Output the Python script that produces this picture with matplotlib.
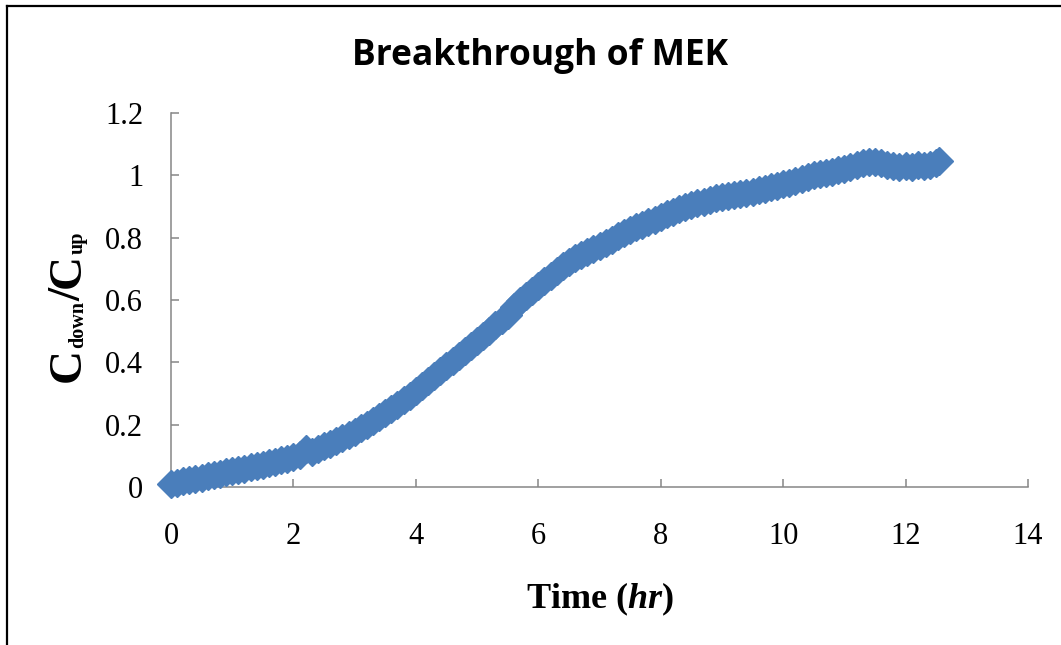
import numpy as np
import matplotlib
matplotlib.use('Agg')
import matplotlib.pyplot as plt
from matplotlib.lines import Line2D
from matplotlib.transforms import IdentityTransform

plt.rcParams['font.family'] = ['Liberation Serif', 'DejaVu Serif']
plt.rcParams['mathtext.fontset'] = 'custom'
plt.rcParams['mathtext.it'] = 'Liberation Serif:bold:italic'
plt.rcParams['mathtext.rm'] = 'Liberation Serif:bold'

# breakthrough data (time in hr, C_down/C_up)
time_hr = [0.0, 0.1, 0.2, 0.3, 0.4, 0.5, 0.6, 0.7, 0.8, 0.9,
           1.0, 1.1, 1.2, 1.3, 1.4, 1.5, 1.6, 1.7, 1.8, 1.9,
           2.0, 2.1, 2.2, 2.3, 2.4, 2.5, 2.6, 2.7, 2.8, 2.9,
           3.0, 3.1, 3.2, 3.3, 3.4, 3.5, 3.6, 3.7, 3.8, 3.9,
           4.0, 4.1, 4.2, 4.3, 4.4, 4.5, 4.6, 4.7, 4.8, 4.9,
           5.0, 5.1, 5.2, 5.3, 5.4, 5.5, 5.6, 5.7, 5.8, 5.9,
           6.0, 6.1, 6.2, 6.3, 6.4, 6.5, 6.6, 6.7, 6.8, 6.9,
           7.0, 7.1, 7.2, 7.3, 7.4, 7.5, 7.6, 7.7, 7.8, 7.9,
           8.0, 8.1, 8.2, 8.3, 8.4, 8.5, 8.6, 8.7, 8.8, 8.9,
           9.0, 9.1, 9.2, 9.3, 9.4, 9.5, 9.6, 9.7, 9.8, 9.9,
           10.0, 10.1, 10.2, 10.3, 10.4, 10.5, 10.6, 10.7, 10.8, 10.9,
           11.0, 11.1, 11.2, 11.3, 11.4, 11.5, 11.6, 11.7, 11.8, 11.9,
           12.0, 12.1, 12.2, 12.3, 12.4, 12.5, 12.55]
ratio = [0.010, 0.014, 0.018, 0.022, 0.026, 0.030, 0.034, 0.038, 0.042, 0.047,
         0.051, 0.055, 0.059, 0.063, 0.067, 0.072, 0.076, 0.081, 0.086, 0.091,
         0.096, 0.102, 0.122, 0.113, 0.121, 0.130, 0.138, 0.147, 0.156, 0.166,
         0.178, 0.189, 0.200, 0.212, 0.224, 0.237, 0.250, 0.264, 0.278, 0.293,
         0.308, 0.324, 0.340, 0.356, 0.372, 0.388, 0.404, 0.420, 0.437, 0.453,
         0.470, 0.486, 0.502, 0.519, 0.535, 0.552, 0.576, 0.598, 0.613, 0.629,
         0.645, 0.662, 0.678, 0.694, 0.708, 0.722, 0.734, 0.745, 0.755, 0.764,
         0.773, 0.783, 0.793, 0.804, 0.814, 0.825, 0.833, 0.842, 0.850, 0.858,
         0.867, 0.875, 0.883, 0.891, 0.899, 0.906, 0.911, 0.916, 0.921, 0.926,
         0.930, 0.933, 0.937, 0.940, 0.944, 0.947, 0.952, 0.957, 0.962, 0.967,
         0.972, 0.977, 0.983, 0.989, 0.995, 1.000, 1.004, 1.008, 1.012, 1.016,
         1.020, 1.026, 1.032, 1.038, 1.042, 1.044, 1.040, 1.034, 1.030, 1.028,
         1.030, 1.026, 1.032, 1.030, 1.034, 1.040, 1.046]

xticks = [0, 2, 4, 6, 8, 10, 12, 14]
yticks = [0, 0.2, 0.4, 0.6, 0.8, 1, 1.2]
ytick_labels = ['0', '0.2', '0.4', '0.6', '0.8', '1', '1.2']

W, H = 1061, 645
fig = plt.figure(figsize=(W / 100, H / 100), dpi=100)
ax = fig.add_axes([171 / W, 1 - 487 / H, (1028 - 171) / W, (487 - 113) / H])

blue = '#4A7EBB'
ax.plot(time_hr, ratio, linestyle='none', marker='D', markersize=14,
        color=blue, markeredgecolor=blue, clip_on=False, zorder=3)

ax.set_xlim(0, 14)
ax.set_ylim(0, 1.2)
ax.set_xticks(xticks)
ax.set_yticks(yticks)
ax.set_yticklabels(ytick_labels)

grey = '#868686'
for s in ['top', 'right']:
    ax.spines[s].set_visible(False)
for s in ['left', 'bottom']:
    ax.spines[s].set_color(grey)
    ax.spines[s].set_linewidth(1.1)
ax.tick_params(direction='in', length=6, width=1.1, color=grey, labelsize=22)
ax.tick_params(axis='x', pad=25)
ax.tick_params(axis='y', pad=20)

# title
fig.text(540 / W, 1 - 65 / H, 'Breakthrough of MEK', ha='center', va='baseline',
         fontsize=25.5, fontweight='bold', family=['Open Sans', 'DejaVu Sans'])

# x label
fig.text(599.5 / W, 1 - 608 / H, r'Time ($\mathit{hr}$)', ha='center', va='baseline',
         fontsize=26, fontweight='bold')

# y label built from pieces, rotated, main letters large and subscripts small
fig.canvas.draw()
renderer = fig.canvas.get_renderer()
pieces = [('C', 34, 0), ('down', 14.5, 3), ('/', 34, 0), ('C', 34, 0), ('up', 14.5, 3)]
base_x = 80
cur_y = H - 382
for txt, fs, shift in pieces:
    t = fig.text(base_x + shift, cur_y, txt, transform=IdentityTransform(),
                 rotation=90, rotation_mode='anchor', ha='left', va='baseline',
                 fontsize=fs, fontweight='bold')
    bb = t.get_window_extent(renderer)
    cur_y += bb.height

# chart frame (left and top edges visible)
fig.add_artist(Line2D([7, 7], [0, H - 6], transform=IdentityTransform(), color='black', lw=1.6))
fig.add_artist(Line2D([7, W], [H - 6, H - 6], transform=IdentityTransform(), color='black', lw=1.6))

fig.savefig('out.png', dpi=100)
